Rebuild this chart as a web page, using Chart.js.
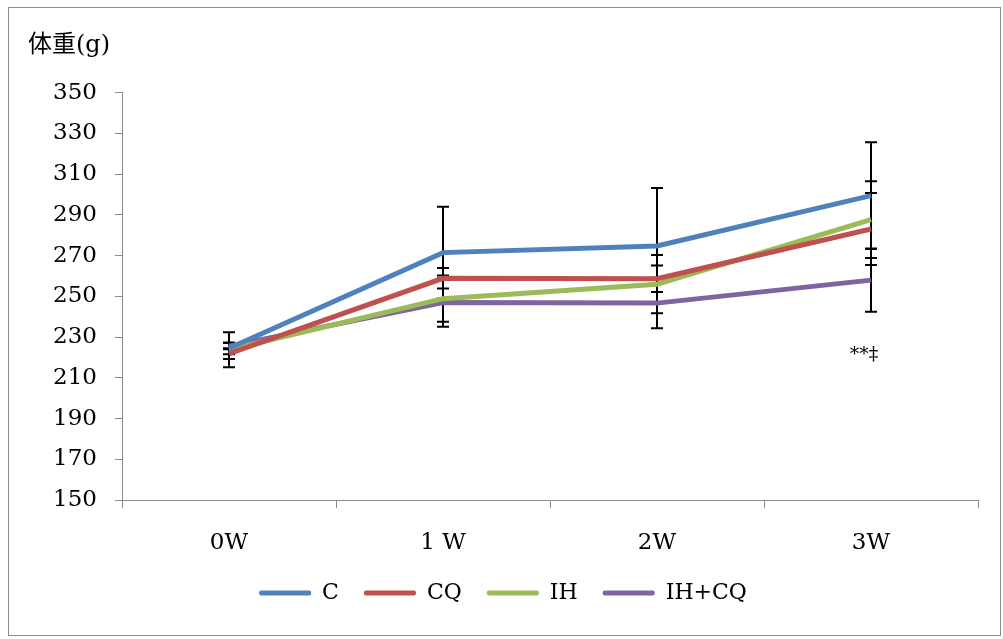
<!DOCTYPE html>
<html>
<head>
<meta charset="utf-8">
<script src="https://cdn.jsdelivr.net/npm/chart.js@4.4.0/dist/chart.umd.min.js"></script>
<style>
  body { margin: 0; background: #fff; }
  #wrap { position: relative; width: 1003px; height: 639px; }
  #frame { position: absolute; left: 8px; top: 7px; width: 991px; height: 627px; border: 1px solid #8c8c8c; pointer-events: none; }
</style>
</head>
<body>
<div id="wrap">
  <canvas id="weightChart" width="1003" height="639"></canvas>
  <div id="frame"></div>
</div>
<script>
// weeks and body weight per group
const weeks = ['0W', '1 W', '2W', '3W'];
const groupC = [224.5, 271.5, 274.8, 299.5];
const groupCQ = [221.9, 258.9, 258.7, 283.1];
const groupIH = [223.8, 248.9, 256.0, 287.7];
const groupIHCQ = [225.6, 247.0, 246.7, 258.0];

// standard deviation (error bars)
const errC = [2.9, 22.5, 28.4, 26.2];
const errCQ = [2.6, 5.0, 6.5, 17.7];
const errIH = [8.6, 11.4, 14.3, 18.8];
const errIHCQ = [1.5, 11.9, 12.4, 15.5];

const yTicks = [150, 170, 190, 210, 230, 250, 270, 290, 310, 330, 350];
const serif = "'DejaVu Serif', 'Noto Sans CJK JP', serif";

const errorBars = {
    id: 'errorBars',
    beforeDatasetsDraw(chart) {
        const ctx = chart.ctx;
        const xs = chart.scales.x;
        const ys = chart.scales.y;
        ctx.save();
        ctx.strokeStyle = '#000';
        ctx.lineWidth = 2;
        chart.data.datasets.forEach(ds => {
            ds.data.forEach((v, i) => {
                const x = xs.getPixelForValue(i);
                const top = ys.getPixelForValue(v + ds.err[i]);
                const bot = ys.getPixelForValue(v - ds.err[i]);
                ctx.beginPath();
                ctx.moveTo(x, top); ctx.lineTo(x, bot);
                ctx.moveTo(x - 6, top); ctx.lineTo(x + 6, top);
                ctx.moveTo(x - 6, bot); ctx.lineTo(x + 6, bot);
                ctx.stroke();
            });
        });
        ctx.restore();
    },
    afterDatasetsDraw(chart) {
        // significance mark under 3W
        const ctx = chart.ctx;
        const x = chart.scales.x.getPixelForValue(3);
        const y = chart.scales.y.getPixelForValue(221);
        ctx.save();
        ctx.fillStyle = '#000';
        ctx.font = '19px ' + serif;
        ctx.textAlign = 'center';
        ctx.textBaseline = 'middle';
        ctx.fillText('**\u2021', x - 7, y);
        ctx.restore();
    }
};

function makeSet(label, data, err, color) {
    return {
        label: label,
        data: data,
        err: err,
        borderColor: color,
        backgroundColor: color,
        borderWidth: 5,
        pointRadius: 0,
        tension: 0
    };
}

const ctx1 = document.getElementById('weightChart').getContext('2d');
new Chart(ctx1, {
    type: 'line',
    data: {
        labels: weeks,
        datasets: [
            makeSet('C', groupC, errC, '#4f81bd'),
            makeSet('CQ', groupCQ, errCQ, '#c0504d'),
            makeSet('IH', groupIH, errIH, '#9bbb59'),
            makeSet('IH+CQ', groupIHCQ, errIHCQ, '#8064a2')
        ]
    },
    options: {
        responsive: false,
        animation: false,
        layout: { padding: { left: 28, right: 25, top: 31, bottom: 25 } },
        scales: {
            x: {
                offset: true,
                afterFit: axis => { axis.height = 57; },
                grid: { offset: true, drawOnChartArea: false, tickLength: 8, color: '#8c8c8c' },
                border: { color: '#8c8c8c' },
                ticks: { color: '#000', padding: 21, font: { family: serif, size: 23 } }
            },
            y: {
                min: 150,
                max: 350,
                afterBuildTicks: axis => { axis.ticks = yTicks.map(v => ({ value: v })); },
                afterFit: axis => { axis.width = 94; },
                grid: { drawOnChartArea: false, tickLength: 7, color: '#8c8c8c' },
                border: { color: '#8c8c8c' },
                ticks: { color: '#000', padding: 18, font: { family: serif, size: 23 } }
            }
        },
        plugins: {
            title: {
                display: true,
                text: '体重(g)',
                align: 'start',
                color: '#000',
                font: { family: serif, size: 24, weight: 'normal' },
                padding: { top: 0, bottom: 33 }
            },
            legend: {
                position: 'bottom',
                labels: {
                    color: '#000',
                    boxWidth: 52,
                    boxHeight: 5,
                    padding: 25,
                    font: { family: serif, size: 22 },
                    generateLabels: chart => chart.data.datasets.map((ds, i) => ({
                        text: ds.label,
                        fillStyle: ds.borderColor,
                        strokeStyle: ds.borderColor,
                        lineWidth: 0,
                        borderRadius: 2,
                        datasetIndex: i
                    }))
                }
            },
            tooltip: { enabled: false }
        }
    },
    plugins: [errorBars]
});
</script>
</body>
</html>
